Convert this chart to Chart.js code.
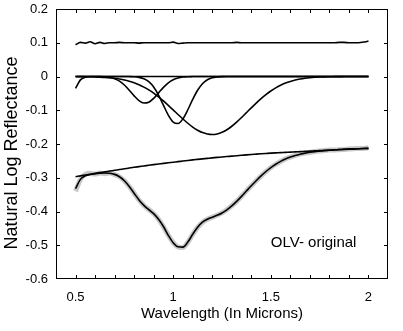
<!DOCTYPE html>
<html>
<head>
<meta charset="utf-8">
<script src="https://cdn.jsdelivr.net/npm/chart.js@4"></script>
<style>
  html, body { margin: 0; padding: 0; background: #fff; }
  #wrap { width: 403px; height: 331px; }
</style>
</head>
<body>
<div id="wrap"><canvas id="olv_chart"></canvas></div>
<script>
// wavelength grid (microns)
const wavelength = [
  0.5, 0.525, 0.55, 0.575, 0.6, 0.625, 0.65, 0.675, 0.7, 0.725,
  0.75, 0.775, 0.8, 0.825, 0.85, 0.875, 0.9, 0.925, 0.95, 0.975,
  1.0, 1.025, 1.05, 1.075, 1.1, 1.125, 1.15, 1.175, 1.2, 1.225,
  1.25, 1.275, 1.3, 1.325, 1.35, 1.375, 1.4, 1.425, 1.45, 1.475,
  1.5, 1.525, 1.55, 1.575, 1.6, 1.625, 1.65, 1.675, 1.7, 1.725,
  1.75, 1.775, 1.8, 1.825, 1.85, 1.875, 1.9, 1.925, 1.95, 1.975, 2.0
];

// residual (offset by +0.1)
const residual = [
  0.094, 0.101, 0.099, 0.103, 0.097, 0.101, 0.098, 0.100, 0.100, 0.101,
  0.100, 0.100, 0.100, 0.099, 0.100, 0.100, 0.100, 0.100, 0.100, 0.100,
  0.102, 0.098, 0.099, 0.100, 0.100, 0.100, 0.100, 0.100, 0.100, 0.100,
  0.100, 0.100, 0.100, 0.101, 0.100, 0.100, 0.100, 0.100, 0.100, 0.100,
  0.100, 0.100, 0.100, 0.100, 0.100, 0.100, 0.100, 0.100, 0.100, 0.100,
  0.100, 0.100, 0.100, 0.100, 0.101, 0.101, 0.100, 0.100, 0.100, 0.102, 0.105
];

const uv_band = [
  -0.035, -0.010, -0.002, 0, 0, 0, 0, 0, 0, 0,
  0, 0, 0, 0, 0, 0, 0, 0, 0, 0,
  0, 0, 0, 0, 0, 0, 0, 0, 0, 0,
  0, 0, 0, 0, 0, 0, 0, 0, 0, 0,
  0, 0, 0, 0, 0, 0, 0, 0, 0, 0,
  0, 0, 0, 0, 0, 0, 0, 0, 0, 0, 0
];

const band_1 = [
  0, 0, 0, 0, -0.0001, -0.0003, -0.001, -0.0028, -0.0066, -0.0137,
  -0.0251, -0.0405, -0.0574, -0.0716, -0.0787, -0.0762, -0.0648, -0.0486, -0.0321, -0.0186,
  -0.0095, -0.0043, -0.0017, -0.0006, -0.0002, 0, 0, 0, 0, 0,
  0, 0, 0, 0, 0, 0, 0, 0, 0, 0,
  0, 0, 0, 0, 0, 0, 0, 0, 0, 0,
  0, 0, 0, 0, 0, 0, 0, 0, 0, 0, 0
];

const band_2 = [
  0, 0, 0, 0, 0, 0, 0, 0, 0, 0,
  0, -0.0002, -0.0008, -0.0025, -0.0066, -0.0154, -0.0311, -0.055, -0.0849, -0.1146,
  -0.1352, -0.1393, -0.1253, -0.0985, -0.0677, -0.0406, -0.0213, -0.0097, -0.0039, -0.0014,
  -0.0004, 0, 0, 0, 0, 0, 0, 0, 0, 0,
  0, 0, 0, 0, 0, 0, 0, 0, 0, 0,
  0, 0, 0, 0, 0, 0, 0, 0, 0, 0, 0
];

const band_3 = [
  -0.0002, -0.0003, -0.0005, -0.0008, -0.0012, -0.0018, -0.0026, -0.0038, -0.0054, -0.0076,
  -0.0104, -0.0141, -0.0187, -0.0245, -0.0315, -0.0398, -0.0494, -0.0604, -0.0724, -0.0853,
  -0.0988, -0.1126, -0.1259, -0.1385, -0.1498, -0.1591, -0.1662, -0.1705, -0.172, -0.1703,
  -0.1655, -0.1577, -0.1474, -0.1352, -0.1216, -0.1072, -0.0928, -0.0788, -0.0656, -0.0535,
  -0.0429, -0.0337, -0.026, -0.0196, -0.0146, -0.0106, -0.0076, -0.0053, -0.0036, -0.0024,
  -0.0016, -0.001, -0.0007, -0.0005, -0.0003, -0.0002, -0.0001, 0, 0, 0, 0
];

const continuum = [
  -0.297, -0.2945, -0.292, -0.2895, -0.287, -0.2847, -0.2825, -0.2802, -0.278, -0.2757,
  -0.2735, -0.2712, -0.269, -0.267, -0.265, -0.263, -0.261, -0.2592, -0.2575, -0.2557,
  -0.254, -0.2522, -0.2505, -0.2487, -0.247, -0.2455, -0.244, -0.2425, -0.241, -0.2397,
  -0.2385, -0.2372, -0.236, -0.2347, -0.2335, -0.2322, -0.231, -0.23, -0.229, -0.228,
  -0.227, -0.2262, -0.2255, -0.2247, -0.224, -0.2232, -0.2225, -0.2217, -0.221, -0.2202,
  -0.2195, -0.2187, -0.218, -0.2172, -0.2165, -0.2157, -0.215, -0.2145, -0.214, -0.2135, -0.213
];

// measured spectrum (grey)
const measured = [
  -0.340, -0.305, -0.290, -0.287, -0.289, -0.286, -0.288, -0.286, -0.290, -0.297,
  -0.309, -0.326, -0.346, -0.366, -0.382, -0.394, -0.406, -0.423, -0.445, -0.470,
  -0.492, -0.505, -0.507, -0.491, -0.468, -0.447, -0.432, -0.423, -0.417, -0.411,
  -0.404, -0.395, -0.383, -0.370, -0.355, -0.339, -0.324, -0.309, -0.295, -0.282,
  -0.270, -0.260, -0.252, -0.244, -0.239, -0.234, -0.230, -0.227, -0.225, -0.222,
  -0.221, -0.219, -0.218, -0.218, -0.217, -0.216, -0.215, -0.214, -0.213, -0.213, -0.211
];

// modelled fit (black)
const fitted = [
  -0.3322, -0.3048, -0.2945, -0.2903, -0.2883, -0.2868, -0.2861, -0.2868, -0.29, -0.297,
  -0.309, -0.326, -0.3459, -0.3656, -0.3818, -0.3944, -0.4063, -0.4232, -0.4445, -0.4705,
  -0.4925, -0.5045, -0.5055, -0.4905, -0.4675, -0.4465, -0.4315, -0.4227, -0.4169, -0.4114,
  -0.4044, -0.3949, -0.3834, -0.3699, -0.3551, -0.3394, -0.3238, -0.3088, -0.2946, -0.2815,
  -0.2699, -0.2599, -0.2515, -0.2443, -0.2386, -0.2338, -0.2301, -0.227, -0.2246, -0.2226,
  -0.2211, -0.2197, -0.2187, -0.2177, -0.2168, -0.2159, -0.2151, -0.2145, -0.214, -0.2135, -0.213
];

const x_tick_labels = [0.5, 1, 1.5, 2];

const FONT = '"Liberation Sans", Arial, Helvetica, sans-serif';
Chart.defaults.font.family = FONT;
Chart.defaults.color = '#000';

const pts = arr => wavelength.map((w, i) => ({ x: w, y: arr[i] }));

const blackLine = (label, arr) => ({
  label: label,
  data: pts(arr),
  borderColor: '#000',
  borderWidth: 1.6,
  pointRadius: 0,
  fill: false,
  cubicInterpolationMode: 'monotone',
  order: 0
});

// frame, inward ticks, y title and the sample label
const box_ticks = {
  id: 'box_ticks',
  afterDraw(chart) {
    const { ctx, chartArea: a, scales: { x, y } } = chart;
    ctx.save();
    ctx.strokeStyle = '#000';
    ctx.lineWidth = 1;
    ctx.strokeRect(a.left + 0.5, a.top + 0.5, a.right - a.left - 1, a.bottom - a.top - 1);
    ctx.beginPath();
    x.ticks.forEach(t => {
      const px = Math.round(x.getPixelForValue(t.value)) + 0.5;
      if (px <= a.left + 2 || px >= a.right - 2) return;
      ctx.moveTo(px, a.bottom); ctx.lineTo(px, a.bottom - 4);
      ctx.moveTo(px, a.top); ctx.lineTo(px, a.top + 4);
    });
    y.ticks.forEach(t => {
      const py = Math.round(y.getPixelForValue(t.value)) + 0.5;
      if (py <= a.top + 2 || py >= a.bottom - 2) return;
      ctx.moveTo(a.left, py); ctx.lineTo(a.left + 4, py);
      ctx.moveTo(a.right, py); ctx.lineTo(a.right - 4, py);
    });
    ctx.stroke();
    ctx.fillStyle = '#000';
    ctx.textBaseline = 'middle';
    ctx.textAlign = 'left';
    ctx.font = '15px ' + FONT;
    ctx.fillText('OLV- original', x.getPixelForValue(1.5), y.getPixelForValue(-0.494));
    // y axis title
    ctx.translate(12, 153);
    ctx.rotate(-Math.PI / 2);
    ctx.textAlign = 'center';
    ctx.font = '18px ' + FONT;
    ctx.fillText('Natural Log Reflectance', 0, 0);
    ctx.restore();
  }
};

new Chart(document.getElementById('olv_chart'), {
  type: 'line',
  data: {
    datasets: [
      blackLine('residual', residual),
      blackLine('uv', uv_band),
      blackLine('band 1', band_1),
      blackLine('band 2', band_2),
      blackLine('band 3', band_3),
      blackLine('continuum', continuum),
      blackLine('fit', fitted),
      {
        label: 'measured',
        data: pts(measured),
        borderColor: 'rgb(200, 200, 200)',
        borderWidth: 5,
        pointRadius: 0,
        fill: false,
        cubicInterpolationMode: 'monotone',
        order: 1
      }
    ]
  },
  options: {
    responsive: true,
    maintainAspectRatio: false,
    animation: false,
    layout: { padding: { top: 9, right: 15, left: 0, bottom: 0 } },
    plugins: { legend: { display: false }, tooltip: { enabled: false } },
    scales: {
      x: {
        type: 'linear',
        min: 0.4,
        max: 2.1,
        grid: { display: false, drawTicks: false },
        border: { display: false },
        ticks: {
          stepSize: 0.1,
          autoSkip: false,
          maxRotation: 0,
          padding: 11,
          font: { size: 13 },
          callback: v => {
            const r = Math.round(v * 10) / 10;
            return x_tick_labels.includes(r) ? String(r) : '';
          }
        },
        title: {
          display: true,
          text: 'Wavelength (In Microns)',
          font: { size: 15 },
          padding: { top: 0, bottom: 8 }
        },
        afterFit: s => { s.height = 52; s.paddingLeft = 0; s.paddingRight = 0; }
      },
      y: {
        min: -0.6,
        max: 0.2,
        grid: { display: false, drawTicks: false },
        border: { display: false },
        ticks: {
          stepSize: 0.1,
          padding: 8,
          font: { size: 13 },
          callback: v => String(Math.round(v * 10) / 10)
        },
        afterFit: s => { s.width = 56; s.paddingTop = 0; s.paddingBottom = 0; }
      }
    }
  },
  plugins: [box_ticks]
});
</script>
</body>
</html>
